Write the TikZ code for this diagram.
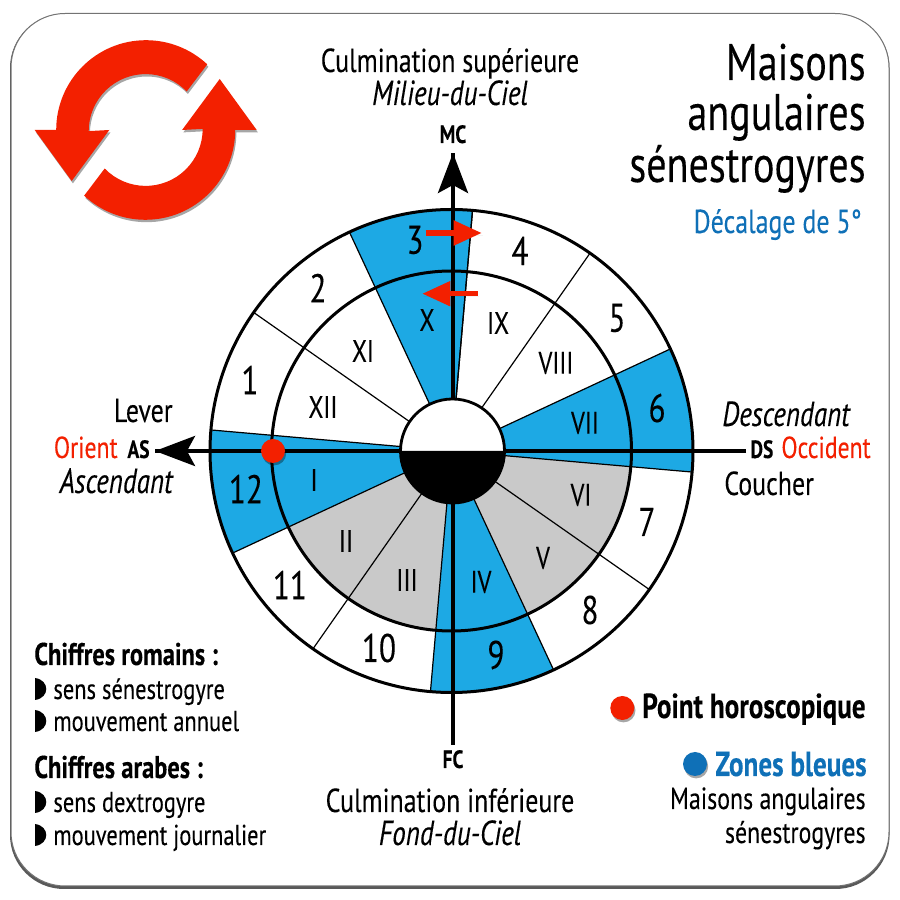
\documentclass[tikz,border=0pt]{standalone}
\usepackage{fontspec}
\setmainfont[FakeStretch=0.78,FakeBold=0.15]{PT Sans}
\usetikzlibrary{arrows.meta,shadows,calc}
\definecolor{rouge}{HTML}{F32000}
\definecolor{ciel}{HTML}{1DA9E4}
\definecolor{gris}{HTML}{C9C9C9}
\definecolor{azur}{HTML}{0F70B7}
\tikzset{
	softshadow/.style={drop shadow={shadow xshift=.6pt,shadow yshift=-1.2pt,opacity=.35,fill=black}},
	txt/.style={inner sep=0pt,font=\fontsize{16.6}{20}\selectfont},
	txtR/.style={txt,anchor=base east},
	txtL/.style={txt,anchor=base west},
	txtC/.style={txt,anchor=base},
	ital/.style={font=\fontsize{17.4}{20}\selectfont\itshape},
	redtxt/.style={text=rouge,font=\fontsize{15.2}{18}\selectfont},
	legend/.style={txtL,font=\fontsize{14.4}{17}\selectfont},
	legendR/.style={txtR,font=\fontsize{15.3}{18}\selectfont},
	boldleft/.style={txtL,font=\fontsize{15.7}{18}\selectfont\bfseries},
	boldright/.style={txtR,font=\fontsize{17.4}{20}\selectfont\bfseries},
	pole/.style={txtC,font=\fontsize{12.5}{14}\selectfont\bfseries},
	arabic/.style={inner sep=0pt,font=\fontsize{20}{24}\selectfont},
	roman/.style={inner sep=0pt,font=\fontsize{15.5}{18}\selectfont},
	title/.style={txtR,font=\fontsize{25.7}{30}\selectfont},
	axis/.style={line width=2pt},
	redarrow/.style={line width=2.6pt,rouge,-{Triangle[length=14pt,width=12pt]},softshadow},
}
\newcommand{\logoarrow}{(56.2,770) arc[start angle=180,end angle=47,radius=89.8]
	-- (186.7,808.5) arc[start angle=44,end angle=180,radius=57]
	-- (109.3,770) -- (71.7,719) -- (34.7,770) -- (56.2,770) -- cycle}

\begin{document}
\begin{tikzpicture}[x=.5pt,y=.5pt]
	\useasboundingbox (0,0) rectangle (900,900);
	\fill[white] (0,0) rectangle (900,900);
	\fill[black!65,rounded corners=27pt] (10,11) rectangle (889.5,886);
	\fill[white,draw=black!55,line width=.5pt,rounded corners=27pt] (11,14) rectangle (889,886.5);

	\foreach \r in {0,180}
	{
		\begin{scope}[rotate around={\r:(145.7,770)}]
			\fill[rouge,softshadow] \logoarrow;
		\end{scope}
	}

	\coordinate (centre) at (451.5,449);
	\coordinate (mc) at (453,747);
	\coordinate (fc) at (453,155);
	\coordinate (as) at (155,449);
	\coordinate (ds) at (746,449);

	\foreach \a in {85,-5,-95,175}
	{
		\fill[ciel] (centre) -- ++(\a:241.5) arc[start angle=\a,delta angle=30,radius=241.5] -- cycle;
	}
	\foreach \a in {-35,-65,-125,-155}
	{
		\fill[gris] (centre) -- ++(\a:180) arc[start angle=\a,delta angle=30,radius=180] -- cycle;
	}
	\foreach \a in {85,55,...,-275}
	{
		\draw[line width=.6pt] (centre) -- ++(\a:241.5);
	}
	\draw[line width=1.5pt] (centre) circle (241.5);
	\draw[line width=1.5pt] (centre) circle (180);

	\draw[axis] (fc) -- (mc);
	\draw[axis] (ds) -- (as);
	\draw[axis,-{Stealth[length=20pt,width=15pt,inset=4pt]}] (centre -| mc) -- (mc);
	\draw[axis,-{Stealth[length=20pt,width=15pt,inset=4pt]}] (centre) -- (as);

	\fill[white] (452.5,449) circle (52);
	\fill[black] (400.5,449) arc[start angle=180,end angle=360,radius=52] -- cycle;
	\draw[line width=1.4pt] (452.5,449) circle (52);

	\fill[rouge,softshadow] (273,449) circle (12);

	\foreach \n/\x/\y in {1/250/380,2/318/288,3/415/240,4/520/251,5/617/318,6/657/408,7/647/522,8/590/610,9/496/655,10/379/648,11/290/585,12/246/489}
	{
		\node[arabic] (num\n) at (\x,900-\y) {\n};
	}
	\foreach \n/\x/\y in {I/314/480,II/346/541,III/407/580,IV/481/582,V/543/558,VI/581/495,VII/585/423,VIII/556/363,IX/498/323,X/427/320,XI/363/351,XII/323/407}
	{
		\node[roman] (rom\n) at (\x,900-\y) {\n};
	}

	\coordinate (fl1s) at (425.7,667);
	\coordinate (fl1e) at (481.7,667);
	\coordinate (fl2s) at (477.7,606.3);
	\coordinate (fl2e) at (422.3,606.3);
	\draw[redarrow] (fl1s) -- (fl1e);
	\draw[redarrow] (fl2s) -- (fl2e);

	\node[txtC] (culmsup) at (450,828) {Culmination supérieure};
	\node[txtC,ital] (milieu) at (450,795) {Milieu-du-Ciel};
	\node[pole] (mclab) at (453,757) {MC};
	\node[pole] (fclab) at (453,132) {FC};
	\node[txtC] (culminf) at (450,88) {Culmination inférieure};
	\node[txtC,ital] (fond) at (450,55) {Fond-du-Ciel};

	\node[txtR] (lever) at (173,478) {Lever};
	\node[txtR,redtxt] (orient) at (118,442) {Orient};
	\node[pole,anchor=base east] (aslab) at (150,442) {AS};
	\node[txtR,ital] (ascendant) at (173,407) {Ascendant};

	\node[txtL,ital] (descendant) at (722,474) {Descendant};
	\node[pole,anchor=base west] (dslab) at (750,442) {DS};
	\node[txtL,redtxt] (occident) at (781,442) {Occident};
	\node[txtL] (coucher) at (724,405) {Coucher};

	\node[title] (t1) at (866,820) {Maisons};
	\node[title] (t2) at (866,770) {angulaires};
	\node[title] (t3) at (866,718) {sénestrogyres};
	\node[txtR,text=azur] (decalage) at (862,667) {Décalage de 5°};

	\node[boldleft] (romains) at (34,235) {Chiffres romains :};
	\node[legend] (rom1) at (53,201) {sens sénestrogyre};
	\node[legend] (rom2) at (53,169) {mouvement annuel};
	\node[boldleft] (arabes) at (34,122) {Chiffres arabes :};
	\node[legend] (ara1) at (53,88) {sens dextrogyre};
	\node[legend] (ara2) at (53,55) {mouvement journalier};
	\foreach \y in {211,179,98,65}
	{
		\fill (35,\y-11) .. controls (50,\y-9) and (50,\y+9) .. (35,\y+11) -- cycle;
	}

	\fill[rouge,softshadow] (622.3,192) circle (12);
	\node[boldright] (point) at (866,182) {Point horoscopique};
	\fill[azur,softshadow] (695,136) circle (12);
	\node[boldright,text=azur] (zones) at (867,124) {Zones bleues};
	\node[legendR] (maisons) at (866,91) {Maisons angulaires};
	\node[legendR] (seneb) at (866,57) {sénestrogyres};
\end{tikzpicture}
\end{document}
